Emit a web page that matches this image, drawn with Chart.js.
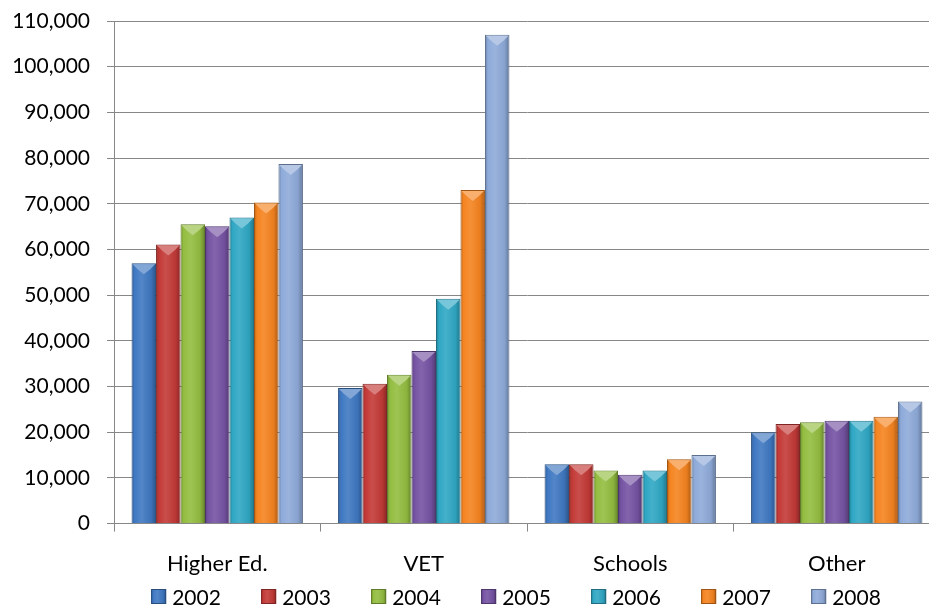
<!DOCTYPE html>
<html>
<head>
<meta charset="utf-8">
<script src="https://cdn.jsdelivr.net/npm/chart.js@4.4.1/dist/chart.umd.min.js"></script>
<style>
  html, body { margin: 0; padding: 0; background: #fff; overflow: hidden; }
  .chart-wrap { width: 940px; height: 605px; position: relative; }
</style>
</head>
<body>
<div class="chart-wrap"><canvas id="fundingChart"></canvas></div>
<script>
// ================== Data ==================
const categories = ['Higher Ed.', 'VET', 'Schools', 'Other'];
const years = ['2002', '2003', '2004', '2005', '2006', '2007', '2008'];

const values2002 = [57000, 29700, 13000, 20000];
const values2003 = [61100, 30600, 13000, 21800];
const values2004 = [65500, 32600, 11600, 22200];
const values2005 = [65100, 37800, 10700, 22500];
const values2006 = [67000, 49200, 11600, 22500];
const values2007 = [70300, 73000, 14100, 23400];
const values2008 = [78700, 107000, 15000, 26700];

const yTicks = [0, 10000, 20000, 30000, 40000, 50000, 60000, 70000, 80000, 90000, 100000, 110000];

const seriesColors = ['#3f78c2', '#c33a37', '#93bd40', '#7553a3', '#2fa7c4', '#f58420', '#8eaad9'];
const seriesValues = [values2002, values2003, values2004, values2005, values2006, values2007, values2008];

const FONT = 'Lato';

// ================== Helpers ==================
function shade(hex, amt) {
  const n = parseInt(hex.slice(1), 16);
  let r = (n >> 16) & 255, g = (n >> 8) & 255, b = n & 255;
  const f = c => amt >= 0 ? Math.round(c + (255 - c) * amt) : Math.round(c * (1 + amt));
  return `rgb(${f(r)},${f(g)},${f(b)})`;
}

function barGradient(ctx, left, right, base) {
  const grad = ctx.createLinearGradient(left, 0, right, 0);
  grad.addColorStop(0, shade(base, -0.25));
  grad.addColorStop(0.12, shade(base, 0.0));
  grad.addColorStop(0.4, shade(base, 0.1));
  grad.addColorStop(0.8, shade(base, -0.05));
  grad.addColorStop(1, shade(base, -0.3));
  return grad;
}

// Bevel style shading for each bar (options are shared, so give every bar its own copy)
const bevelPlugin = {
  id: 'bevel',
  beforeDatasetsDraw(chart) {
    const ctx = chart.ctx;
    chart.data.datasets.forEach((ds, i) => {
      const meta = chart.getDatasetMeta(i);
      const base = seriesColors[i];
      meta.data.forEach(bar => {
        const left = bar.x - bar.width / 2;
        const right = bar.x + bar.width / 2;
        bar.options = Object.assign({}, bar.options, {
          backgroundColor: barGradient(ctx, left, right, base),
          borderColor: shade(base, -0.35)
        });
      });
    });
  },
  afterDatasetsDraw(chart) {
    const ctx = chart.ctx;
    chart.data.datasets.forEach((ds, i) => {
      const meta = chart.getDatasetMeta(i);
      const base = seriesColors[i];
      meta.data.forEach(bar => {
        const left = bar.x - bar.width / 2 + 1;
        const right = bar.x + bar.width / 2 - 1;
        const top = bar.y + 1;
        ctx.save();
        ctx.beginPath();
        ctx.moveTo(left, top);
        ctx.lineTo(right, top);
        ctx.lineTo(right - 5, top + 5);
        ctx.lineTo(bar.x, top + 10);
        ctx.lineTo(left + 5, top + 5);
        ctx.closePath();
        ctx.fillStyle = shade(base, 0.35);
        ctx.fill();
        ctx.restore();
      });
    });
  }
};

// Legend row under the axis labels
const legendPlugin = {
  id: 'bottomLegend',
  afterDraw(chart) {
    const ctx = chart.ctx;
    const box = 15, gap = 6, step = 110, centerX = 516, y = 597;
    ctx.save();
    ctx.font = `21px ${FONT}`;
    ctx.textBaseline = 'middle';
    ctx.fillStyle = '#000';
    const lastW = ctx.measureText(years[years.length - 1]).width;
    const total = step * (years.length - 1) + box + gap + lastW;
    let x = centerX - total / 2;
    years.forEach((yr, i) => {
      const base = seriesColors[i];
      ctx.fillStyle = barGradient(ctx, x, x + box, base);
      ctx.fillRect(x, y - 8, box, box);
      ctx.strokeStyle = shade(base, -0.35);
      ctx.lineWidth = 1;
      ctx.strokeRect(x + 0.5, y - 7.5, box - 1, box - 1);
      ctx.fillStyle = '#000';
      ctx.fillText(yr, x + box + gap, y + 1);
      x += step;
    });
    ctx.restore();
  }
};

// ================== Chart ==================
const datasets = years.map((yr, i) => ({
  label: yr,
  data: seriesValues[i],
  backgroundColor: seriesColors[i],
  borderColor: shade(seriesColors[i], -0.35),
  borderWidth: 1,
  categoryPercentage: 0.83,
  barPercentage: 1.0
}));

new Chart(document.getElementById('fundingChart'), {
  type: 'bar',
  data: { labels: categories, datasets },
  plugins: [bevelPlugin, legendPlugin],
  options: {
    responsive: true,
    maintainAspectRatio: false,
    animation: false,
    layout: { padding: { top: 21, right: 0, bottom: 9, left: 0 } },
    plugins: {
      tooltip: { enabled: false },
      legend: { display: false }
    },
    scales: {
      x: {
        grid: { offset: true, drawOnChartArea: false, tickLength: 8, color: '#878787' },
        border: { color: '#878787', width: 1 },
        ticks: { color: '#000', font: { family: FONT, size: 22 }, padding: 19 }
      },
      y: {
        min: 0,
        max: 110000,
        afterFit: scale => {
          scale.width = 114;
          scale.paddingTop = 0;
          scale.paddingBottom = 0;
        },
        afterBuildTicks: scale => { scale.ticks = yTicks.map(v => ({ value: v })); },
        grid: { color: '#878787', tickLength: 7 },
        border: { color: '#878787', width: 1 },
        ticks: {
          color: '#000',
          font: { family: FONT, size: 21 },
          padding: 17,
          callback: v => v.toLocaleString('en-US')
        }
      }
    }
  }
});
</script>
</body>
</html>
